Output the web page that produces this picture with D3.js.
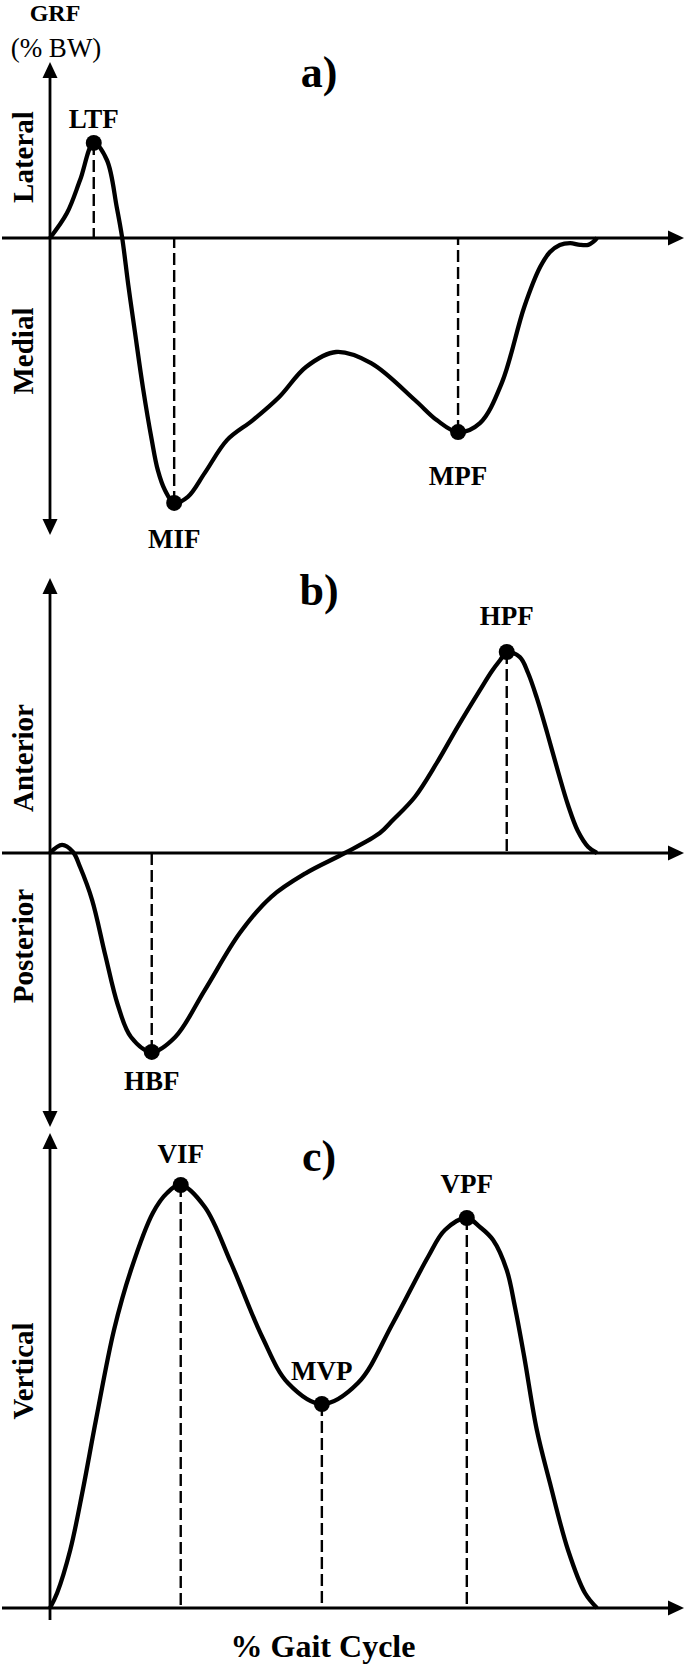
<!DOCTYPE html>
<html>
<head>
<meta charset="utf-8">
<script src="https://cdn.jsdelivr.net/npm/d3@7/dist/d3.min.js"></script>
<style>
  body { margin: 0; background: #fff; }
  svg text { font-family: "Liberation Serif", "Times New Roman", serif; fill: #000; }
</style>
</head>
<body>
<script>
// ---- data (x = % gait cycle, y = GRF, arbitrary %BW units) ----

// a) medio-lateral
var mlPct   = [0, 3.1, 5.5, 8.0, 10.4, 12.2, 13.2, 14.3, 15.5, 17.0, 18.6, 19.7, 21.0, 22.7, 25.2, 28.3, 32.4, 37.1, 41.9, 46.8, 52.3, 58.7, 66.7, 70.7, 74.6, 78.6, 82.6, 86.7, 89.6, 91.4, 93.2, 95.1, 96.9, 98.4, 99.3, 100];
var mlForce = [0, 0.83, 1.93, 3.17, 2.6, 1.03, 0, -1.55, -3.1, -5.0, -6.73, -7.73, -8.4, -8.83, -8.63, -7.83, -6.73, -6.07, -5.3, -4.3, -3.8, -4.17, -5.4, -6.07, -6.47, -6.17, -4.83, -2.3, -0.97, -0.47, -0.23, -0.17, -0.23, -0.23, -0.13, 0];
var mlEvents   = ["LTF", "MIF", "MPF"];
var mlEventPct = [8.0, 22.7, 74.6];
var mlEventVal = [3.17, -8.83, -6.47];

// b) antero-posterior
var apPct   = [0, 2.2, 4.2, 5.5, 7.7, 10.1, 12.4, 14.8, 18.6, 22.9, 28.3, 34.7, 40.4, 46.8, 53.9, 60.3, 62.7, 66.7, 70.7, 74.6, 78.6, 80.8, 82.3, 83.5, 85.9, 87.4, 89.0, 90.9, 92.9, 94.7, 96.5, 98.4, 100];
var apForce = [0, 0.67, 0.08, -1.17, -3.92, -8.5, -12.67, -15.33, -16.58, -15.33, -11.42, -6.67, -3.67, -1.67, 0, 1.67, 2.75, 4.67, 7.5, 10.58, 13.58, 15.17, 16.08, 16.75, 16.33, 15.0, 12.92, 10.0, 6.75, 4.0, 1.83, 0.5, 0];
var apEvents   = ["HPF", "HBF"];
var apEventPct = [83.5, 18.6];
var apEventVal = [16.75, -16.58];

// c) vertical
var vPct   = [0, 1.3, 3.7, 6.0, 8.4, 11.7, 14.8, 18.8, 21.4, 23.9, 28.3, 33.1, 38.8, 43.5, 49.7, 56.3, 62.7, 69.1, 72.2, 76.2, 78.6, 81.0, 83.5, 85.0, 86.7, 89.0, 91.4, 94.7, 97.8, 100];
var vForce = [0, 3.75, 14.5, 29.5, 47, 69.5, 84.5, 98.75, 103.75, 105.75, 100.25, 86.25, 67.75, 56.25, 51, 56.25, 71.25, 87.75, 94.5, 97.5, 95.25, 92.0, 84.5, 75.25, 62.75, 44.5, 31.25, 14.5, 3.75, 0];
var vEvents   = ["VIF", "MVP", "VPF"];
var vEventPct = [23.9, 49.7, 76.2];
var vEventVal = [105.75, 51, 97.5];

// ---- layout ----
var W = 685, H = 1666;
var svg = d3.select("body").append("svg")
    .attr("width", W)
    .attr("height", H);

svg.append("rect").attr("width", W).attr("height", H).attr("fill", "#fff");

var x = d3.scaleLinear().domain([0, 100]).range([50, 597]);

function yScale(zero, pxPerUnit) {
    return d3.scaleLinear().domain([0, 1]).range([zero, zero - pxPerUnit]);
}

var panels = [
    { title: "a)", titleY: 87, pct: mlPct, val: mlForce,
      ev: mlEvents, evPct: mlEventPct, evVal: mlEventVal, labelDy: [-15, 45, 53],
      y: yScale(238, 30), top: 62, bottom: 535, downArrow: true,
      sides: [["Lateral", 157], ["Medial", 351]] },
    { title: "b)", titleY: 605, pct: apPct, val: apForce,
      ev: apEvents, evPct: apEventPct, evVal: apEventVal, labelDy: [-27, 38],
      y: yScale(853, 12), top: 578, bottom: 1127, downArrow: true,
      sides: [["Anterior", 758], ["Posterior", 946]] },
    { title: "c)", titleY: 1171, pct: vPct, val: vForce,
      ev: vEvents, evPct: vEventPct, evVal: vEventVal, labelDy: [-22, -24, -25],
      y: yScale(1608, 4), top: 1133, bottom: 1620, downArrow: false,
      sides: [["Vertical", 1371]] }
];

function arrowHead(g, tx, ty, dir) {
    var L = 16, hw = 7.5, pts;
    if (dir === "right") pts = [[tx, ty], [tx - L, ty - hw], [tx - L, ty + hw]];
    if (dir === "up")    pts = [[tx, ty], [tx - hw, ty + L], [tx + hw, ty + L]];
    if (dir === "down")  pts = [[tx, ty], [tx - hw, ty - L], [tx + hw, ty - L]];
    g.append("path").attr("d", "M" + pts.join("L") + "Z").attr("fill", "#000");
}

panels.forEach(function(p) {
    var g = svg.append("g");
    var y0 = p.y(0);

    // axes
    g.append("line")
        .attr("x1", 2).attr("x2", 670)
        .attr("y1", y0).attr("y2", y0)
        .attr("stroke", "#000").attr("stroke-width", 2.8);
    arrowHead(g, 684, y0, "right");

    g.append("line")
        .attr("x1", x(0)).attr("x2", x(0))
        .attr("y1", p.top + 10).attr("y2", p.downArrow ? p.bottom - 10 : p.bottom)
        .attr("stroke", "#000").attr("stroke-width", 2.8);
    arrowHead(g, x(0), p.top, "up");
    if (p.downArrow) arrowHead(g, x(0), p.bottom, "down");

    // side labels
    p.sides.forEach(function(s) {
        g.append("text")
            .attr("transform", "translate(33," + s[1] + ") rotate(-90)")
            .attr("text-anchor", "middle")
            .attr("font-size", 29)
            .attr("font-weight", "bold")
            .text(s[0]);
    });

    // panel title
    g.append("text")
        .attr("x", 319).attr("y", p.titleY)
        .attr("text-anchor", "middle")
        .attr("font-size", 44)
        .attr("font-weight", "bold")
        .text(p.title);

    // dashed drop lines
    p.ev.forEach(function(name, i) {
        g.append("line")
            .attr("x1", x(p.evPct[i])).attr("x2", x(p.evPct[i]))
            .attr("y1", p.y(p.evVal[i])).attr("y2", y0)
            .attr("stroke", "#000").attr("stroke-width", 2.4)
            .attr("stroke-dasharray", "12,5");
    });

    // curve
    var pts = p.pct.map(function(d, i) { return [d, p.val[i]]; });
    var line = d3.line()
        .x(function(d) { return x(d[0]); })
        .y(function(d) { return p.y(d[1]); })
        .curve(d3.curveCatmullRom.alpha(0.5));
    g.append("path")
        .attr("d", line(pts))
        .attr("fill", "none")
        .attr("stroke", "#000")
        .attr("stroke-width", 4.3)
        .attr("stroke-linejoin", "round");

    // event markers and labels
    p.ev.forEach(function(name, i) {
        var cx = x(p.evPct[i]), cy = p.y(p.evVal[i]);
        g.append("circle").attr("cx", cx).attr("cy", cy).attr("r", 8).attr("fill", "#000");
        g.append("text")
            .attr("x", cx).attr("y", cy + p.labelDy[i])
            .attr("text-anchor", "middle")
            .attr("font-size", 27)
            .attr("font-weight", "bold")
            .text(name);
    });
});

// header and x-axis title
svg.append("text").attr("x", 55).attr("y", 21)
    .attr("text-anchor", "middle").attr("font-size", 24).attr("font-weight", "bold")
    .text("GRF");
svg.append("text").attr("x", 56).attr("y", 57)
    .attr("text-anchor", "middle").attr("font-size", 27)
    .text("(% BW)");
svg.append("text").attr("x", 323).attr("y", 1657)
    .attr("text-anchor", "middle").attr("font-size", 32).attr("font-weight", "bold")
    .text("% Gait Cycle");
</script>
</body>
</html>
